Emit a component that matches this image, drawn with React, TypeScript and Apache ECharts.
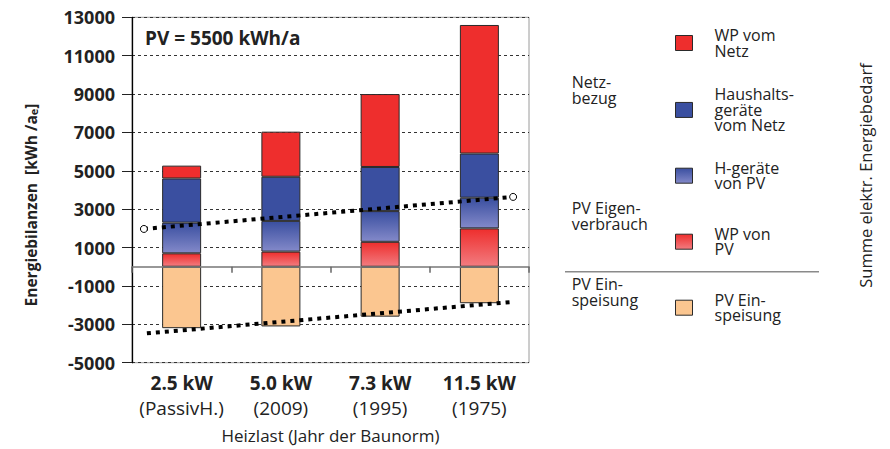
import React, { useEffect, useRef } from "react";
import * as echarts from "echarts";

// ---- data ----
const HEAT_LOAD = ["2.5 kW", "5.0 kW", "7.3 kW", "11.5 kW"];
const NORM_YEAR = ["(PassivH.)", "(2009)", "(1995)", "(1975)"];

const WP_VON_PV = [700, 790, 1300, 2000];
const HG_VON_PV = [1600, 1600, 1600, 1600];
const HG_VOM_NETZ = [2300, 2300, 2300, 2300];
const WP_VOM_NETZ = [670, 2350, 3800, 6700];
const PV_EINSPEISUNG = [-3200, -3110, -2600, -1900];

// trend lines, x in category units (0..4), y in kWh/a
const TREND_EIGENVERBRAUCH = [
  [0.12, 1970],
  [3.84, 3640],
];
const TREND_EINSPEISUNG = [
  [0.15, -3470],
  [3.84, -1830],
];

const Y_TICKS = [-5000, -3000, -1000, 1000, 3000, 5000, 7000, 9000, 11000, 13000];

const SERIES_NAMES = [
  "WP vom Netz",
  "Haushaltsgeräte vom Netz",
  "H-geräte von PV",
  "WP von PV",
  "PV Einspeisung",
];
const LEGEND_TEXT = [
  "WP vom\nNetz",
  "Haushalts-\ngeräte\nvom Netz",
  "H-geräte\nvon PV",
  "WP von\nPV",
  "PV Ein-\nspeisung",
];
const GROUP_LABELS = ["Netz-\nbezug", "PV Eigen-\nverbrauch", "PV Ein-\nspeisung"];

const FONT = "'Open Sans', sans-serif";
const TXT = "#222";

export default function App() {
  const ref = useRef<HTMLDivElement>(null);

  useEffect(() => {
    if (!ref.current) return;
    const chart = echarts.init(ref.current, undefined, { renderer: "svg" });

    const red = "#ee2e2d";
    const blue = "#3a4fa0";
    const blueGrad = new echarts.graphic.LinearGradient(0, 0, 0, 1, [
      { offset: 0, color: "#3a4fa0" },
      { offset: 1, color: "#8389c9" },
    ]);
    const redGrad = new echarts.graphic.LinearGradient(0, 0, 0, 1, [
      { offset: 0, color: "#ee2e2d" },
      { offset: 1, color: "#f27c80" },
    ]);
    const peach = "#fbc690";
    const colors: any[] = [red, blue, blueGrad, redGrad, peach];
    const values = [WP_VOM_NETZ, HG_VOM_NETZ, HG_VON_PV, WP_VON_PV, PV_EINSPEISUNG];

    const barOrder = [3, 2, 1, 0, 4];
    const barSeries = barOrder.map((i) => ({
      name: SERIES_NAMES[i],
      type: "bar",
      stack: "bilanz",
      xAxisIndex: 0,
      yAxisIndex: 0,
      barWidth: 39,
      data: values[i],
      itemStyle: { color: colors[i], borderColor: "#2a2a2a", borderWidth: 1 },
      emphasis: { disabled: true },
      z: 2,
    }));

    const LH = 15.5;
    const legendTops = [25, 85, 155.4, 223.5, 283.5];
    const legendPads = [
      [5, 0, 0, 17],
      [3.4, 0, 0, 17],
      [9.6, 0, 0, 17],
      [0, 0, 5.4, 17],
      [0, 0, 17.4, 17],
    ];
    const legends = SERIES_NAMES.map((n, i) => ({
      data: [n],
      left: 675,
      top: legendTops[i],
      padding: 0,
      orient: "vertical",
      icon: "rect",
      itemWidth: 17,
      itemHeight: 15,
      selectedMode: false,
      itemStyle: { borderColor: "#2a2a2a", borderWidth: 1 },
      formatter: () => LEGEND_TEXT[i],
      textStyle: {
        fontFamily: FONT,
        fontSize: 16,
        lineHeight: LH,
        color: TXT,
        padding: legendPads[i],
      },
    }));

    const groupY = [90, 216, 292];

    const option: any = {
      animation: false,
      backgroundColor: "#ffffff",
      textStyle: { fontFamily: FONT },
      legend: legends,
      grid: {
        left: 132,
        right: 361,
        top: 17.3,
        bottom: 86.3,
        show: true,
        borderColor: "#9a9a9a",
        borderWidth: 1,
      },
      xAxis: [
        {
          type: "category",
          data: HEAT_LOAD,
          position: "bottom",
          axisLine: { show: true, onZero: true, lineStyle: { color: "#777", width: 1.5 } },
          axisTick: { show: true, length: 6, lineStyle: { color: "#666", width: 1.5 } },
          axisLabel: { show: false },
          splitLine: { show: false },
          z: 3,
        },
        {
          type: "category",
          data: HEAT_LOAD,
          position: "bottom",
          axisLine: { show: false, onZero: false },
          axisTick: { show: false },
          splitLine: { show: false },
          axisLabel: {
            interval: 0,
            margin: 8,
            formatter: (_v: string, idx: number) =>
              `{b|${HEAT_LOAD[idx]}}\n{n|${NORM_YEAR[idx]}}`,
            rich: {
              b: { fontFamily: FONT, fontSize: 19, fontWeight: "bold", color: TXT, lineHeight: 25 },
              n: { fontFamily: FONT, fontSize: 19, color: TXT, lineHeight: 25 },
            },
          },
          name: "Heizlast (Jahr der Baunorm)",
          nameLocation: "middle",
          nameGap: 64,
          nameTextStyle: { fontFamily: FONT, fontSize: 17, color: TXT },
        },
        { type: "value", min: 0, max: 4, show: false },
      ],
      yAxis: {
        type: "value",
        min: -5000,
        max: 13000,
        interval: 1000,
        axisLine: { show: true, lineStyle: { color: "#000", width: 1.3 } },
        axisTick: {
          show: true,
          length: 10,
          customValues: Y_TICKS,
          lineStyle: { color: "#222", width: 1 },
        },
        axisLabel: {
          customValues: Y_TICKS,
          margin: 17,
          formatter: (v: number) => String(v),
          fontFamily: FONT,
          fontSize: 18,
          fontWeight: "bold",
          color: TXT,
        },
        splitLine: {
          show: true,
          lineStyle: { type: [3, 3], color: "#333", width: 1 },
        },
      },
      series: [
        ...barSeries,
        {
          name: "Trend Eigenverbrauch",
          type: "line",
          xAxisIndex: 2,
          yAxisIndex: 0,
          data: TREND_EIGENVERBRAUCH,
          symbol: "circle",
          symbolSize: 7,
          showSymbol: true,
          itemStyle: { color: "#fff", borderColor: "#000", borderWidth: 1 },
          lineStyle: { color: "#000", width: 4, type: [4, 5], cap: "butt" },
          emphasis: { disabled: true },
          z: 5,
        },
        {
          name: "Trend Einspeisung",
          type: "line",
          xAxisIndex: 2,
          yAxisIndex: 0,
          data: TREND_EINSPEISUNG,
          symbol: "none",
          lineStyle: { color: "#000", width: 4, type: [4, 5], cap: "butt" },
          emphasis: { disabled: true },
          z: 5,
        },
      ],
      graphic: [
        {
          type: "text",
          x: 145,
          y: 38,
          style: {
            text: "PV = 5500 kWh/a",
            font: `bold 19px ${FONT}`,
            fill: TXT,
            align: "left",
            verticalAlign: "middle",
          },
        },
        {
          type: "text",
          x: 31,
          y: 205,
          rotation: Math.PI / 2,
          style: {
            text: "Energiebilanzen  [kWh /a{s|e}]",
            font: `bold 15.5px ${FONT}`,
            fill: TXT,
            align: "center",
            verticalAlign: "middle",
            rich: {
              s: { fontFamily: FONT, fontWeight: "bold", fontSize: 11, fill: TXT, verticalAlign: "bottom", lineHeight: 10 },
            },
          },
        },
        {
          type: "text",
          x: 865,
          y: 175.5,
          rotation: Math.PI / 2,
          style: {
            text: "Summe elektr. Energiebedarf",
            font: `16.5px ${FONT}`,
            fill: TXT,
            align: "center",
            verticalAlign: "middle",
          },
        },
        ...GROUP_LABELS.map((t, i) => ({
          type: "text",
          x: 571.7,
          y: groupY[i],
          style: {
            text: t,
            font: `16px ${FONT}`,
            lineHeight: LH,
            fill: TXT,
            align: "left",
            verticalAlign: "middle",
          },
        })),
        {
          type: "line",
          shape: { x1: 565, y1: 271.7, x2: 819, y2: 271.7 },
          style: { stroke: "#8a8a8a", lineWidth: 1.5 },
        },
      ],
    };

    chart.setOption(option);
    return () => chart.dispose();
  }, []);

  return (
    <div
      ref={ref}
      style={{ position: "fixed", left: 0, top: 0, width: 890, height: 449, background: "#fff" }}
    />
  );
}
